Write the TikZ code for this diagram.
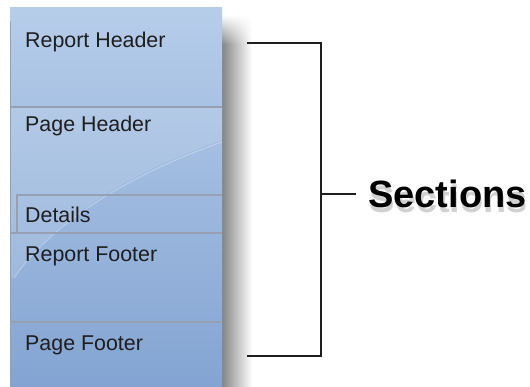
\documentclass[tikz,border=0pt]{standalone}
\usepackage{fontspec}
\newfontfamily\arial{Liberation Sans}
\usetikzlibrary{calc,fadings}
\definecolor{paneltop}{RGB}{182,205,234}
\definecolor{panelbot}{RGB}{131,164,210}
\definecolor{divider}{RGB}{150,160,176}
\definecolor{ink}{RGB}{30,30,30}
\tikzfading[name=topfade, top color=transparent!100, bottom color=transparent!0]
\tikzset{
  sectlabel/.style={anchor=base west, inner sep=0pt, font=\arial\fontsize{21.4}{24}\selectfont, text=ink},
  divline/.style={draw=divider, line width=1.6pt},
  bracket/.style={draw=ink, line width=1.4pt},
  bigfont/.style={font=\arial\bfseries\fontsize{38}{42}\selectfont},
}
\begin{document}
\begin{tikzpicture}[x=1pt,y=-1pt]
\useasboundingbox (0,0) rectangle (530,387);
\fill[white] (0,0) rectangle (530,387);
% shadow
\shade[left color=black!48, right color=white] (222,45) rectangle (252,387);
\shade[left color=black!48, right color=white, path fading=topfade] (222,15) rectangle (252,45);
% panel
\shade[top color=paneltop, bottom color=panelbot] (10,8) rectangle (222,387);
% swoosh
\fill[white, opacity=0.12] (222,140) .. controls (150,165) and (60,210) .. (14,278) -- (10,278) -- (10,107) -- (222,107) -- cycle;
\draw[white, opacity=0.35, line width=0.8pt] (222,142) .. controls (150,167) and (60,212) .. (14,278);
% left border
\draw[divider, line width=1pt] (10.5,22) -- (10.5,387);
% dividers
\draw[divline] (10,107) -- (222,107);
\draw[divider, line width=1.2pt] (17,233) -- (17,195) -- (222,195);
\draw[divline] (10,233) -- (222,233);
\draw[divline] (10,322) -- (222,322);
% labels
\node[sectlabel] (rh) at (25,48) {Report Header};
\node[sectlabel] (ph) at (25,132) {Page Header};
\node[sectlabel] (de) at (25,223) {Details};
\node[sectlabel] (rf) at (25,262) {Report Footer};
\node[sectlabel] (pf) at (25,350) {Page Footer};
% bracket
\coordinate (a1) at (247,43);
\coordinate (a2) at (321,43);
\coordinate (b1) at (247,356);
\coordinate (b2) at (321,356);
\coordinate (m) at (321,194);
% Sections text with soft shadow
\node[anchor=west, inner sep=0pt, bigfont, text=black, opacity=0.18] (secshadow) at (369.5,198.5) {Sections};
\node[anchor=west, bigfont, text=black, inner sep=12pt] (sec) at (356,194) {Sections};
\draw[bracket] (a1) -- (a2) -- (b2) -- (b1);
\draw[bracket] (m) -- (sec.west);
\end{tikzpicture}
\end{document}
